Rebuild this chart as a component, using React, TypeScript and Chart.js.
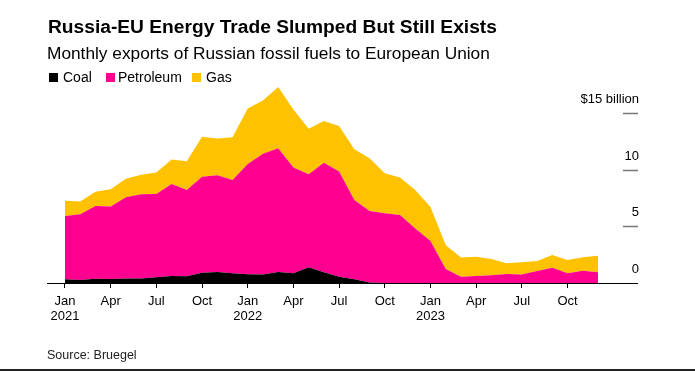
import React, { useEffect, useRef } from "react";
import { Chart, registerables } from "chart.js";

Chart.register(...registerables);

const months = [
  "Jan 2021","Feb 2021","Mar 2021","Apr 2021","May 2021","Jun 2021","Jul 2021","Aug 2021","Sep 2021","Oct 2021","Nov 2021","Dec 2021",
  "Jan 2022","Feb 2022","Mar 2022","Apr 2022","May 2022","Jun 2022","Jul 2022","Aug 2022","Sep 2022","Oct 2022","Nov 2022","Dec 2022",
  "Jan 2023","Feb 2023","Mar 2023","Apr 2023","May 2023","Jun 2023","Jul 2023","Aug 2023","Sep 2023","Oct 2023","Nov 2023","Dec 2023",
];

// $ billion per month
const coal = [
  0.33, 0.26, 0.38, 0.35, 0.4, 0.4, 0.5, 0.62, 0.6, 0.91, 0.97, 0.85,
  0.77, 0.75, 0.97, 0.85, 1.38, 0.94, 0.56, 0.33, 0.05, 0, 0, 0,
  0, 0, 0, 0, 0, 0, 0, 0, 0, 0, 0, 0,
];
const petroleum = [
  5.58, 5.8, 6.42, 6.39, 7.16, 7.43, 7.35, 8.12, 7.6, 8.47, 8.53, 8.24,
  9.73, 10.65, 10.93, 9.35, 8.22, 9.66, 9.27, 7.0, 6.3, 6.15, 6.0, 4.8,
  3.7, 1.24, 0.56, 0.62, 0.68, 0.8, 0.74, 1.06, 1.35, 0.85, 1.09, 0.94,
];
const gas = [
  1.35, 1.14, 1.26, 1.53, 1.64, 1.73, 1.89, 2.16, 2.54, 3.52, 3.24, 3.77,
  4.9, 4.7, 5.4, 5.1, 4.0, 3.7, 4.03, 4.47, 4.65, 3.53, 3.3, 3.4,
  3.0, 2.11, 1.68, 1.7, 1.44, 0.94, 1.08, 0.88, 1.12, 1.18, 1.18, 1.47,
];

const xTickIndices = [0, 3, 6, 9, 12, 15, 18, 21, 24, 27, 30, 33];
const xTickLabels: (string | string[])[] = [
  ["Jan", "2021"], "Apr", "Jul", "Oct",
  ["Jan", "2022"], "Apr", "Jul", "Oct",
  ["Jan", "2023"], "Apr", "Jul", "Oct",
];
const yTickValues = [0, 5, 10, 15];
const yTickLabels = ["0", "5", "10", "$15 billion"];

const COAL = "#000000";
const PETROLEUM = "#ff0090";
const GAS = "#ffc200";
const FONT = "'Liberation Sans', Arial, Helvetica, sans-serif";

const dashPlugin = {
  id: "yDashes",
  afterDraw(chart: any) {
    const { ctx, chartArea, scales } = chart;
    ctx.save();
    ctx.strokeStyle = "#777777";
    ctx.lineWidth = 1.5;
    yTickValues.forEach((v) => {
      if (v === 0) return;
      const y = Math.round(scales.y.getPixelForValue(v)) + 0.5;
      ctx.beginPath();
      ctx.moveTo(chartArea.right - 14, y);
      ctx.lineTo(chartArea.right + 1, y);
      ctx.stroke();
    });
    ctx.restore();
  },
};

function ChartView() {
  const ref = useRef<HTMLCanvasElement | null>(null);
  useEffect(() => {
    if (!ref.current) return;
    const mk = (arr: number[]) => arr.map((v, i) => ({ x: i, y: v }));
    const chart = new Chart(ref.current, {
      type: "line",
      data: {
        labels: months,
        datasets: [
          { label: "Coal", data: mk(coal), backgroundColor: COAL, borderWidth: 0, pointRadius: 0, fill: "origin", tension: 0 },
          { label: "Petroleum", data: mk(petroleum), backgroundColor: PETROLEUM, borderWidth: 0, pointRadius: 0, fill: "-1", tension: 0 },
          { label: "Gas", data: mk(gas), backgroundColor: GAS, borderWidth: 0, pointRadius: 0, fill: "-1", tension: 0 },
        ],
      },
      options: {
        animation: false,
        responsive: false,
        maintainAspectRatio: false,
        layout: { padding: { left: 47, top: 79, right: 0, bottom: 0 } },
        plugins: { legend: { display: false }, tooltip: { enabled: false }, title: { display: false } },
        scales: {
          x: {
            type: "linear",
            min: -1.18,
            max: 37.56,
            afterFit: (s: any) => { s.height = 88; },
            afterBuildTicks: (s: any) => { s.ticks = xTickIndices.map((v) => ({ value: v })); },
            grid: { display: true, drawOnChartArea: false, drawTicks: true, tickLength: 5, color: "#000", lineWidth: 1 },
            border: { display: true, color: "#000", width: 1 },
            ticks: {
              autoSkip: false,
              maxRotation: 0,
              padding: 6,
              color: "#000",
              font: { family: FONT, size: 13, lineHeight: 1.17 },
              callback: (v: any) => {
                const idx = xTickIndices.indexOf(Number(v));
                return idx >= 0 ? xTickLabels[idx] : "";
              },
            },
          },
          y: {
            type: "linear",
            position: "right",
            stacked: true,
            min: 0,
            max: 18,
            afterFit: (s: any) => { s.width = 58; },
            afterBuildTicks: (s: any) => { s.ticks = yTickValues.map((v) => ({ value: v })); },
            grid: { display: false },
            border: { display: false },
            ticks: {
              mirror: true,
              padding: 2,
              labelOffset: -13.5,
              color: "#000",
              font: { family: FONT, size: 13 },
              callback: (v: any) => {
                const idx = yTickValues.indexOf(Number(v));
                return idx >= 0 ? yTickLabels[idx] : "";
              },
            },
          },
        },
      },
      plugins: [dashPlugin],
    } as any);
    return () => chart.destroy();
  }, []);
  return <canvas ref={ref} width={695} height={371} style={{ position: "absolute", left: 0, top: 0, width: 695, height: 371 }} />;
}

const legendItems = [
  { label: "Coal", color: COAL, sq: 49, tx: 63 },
  { label: "Petroleum", color: PETROLEUM, sq: 106, tx: 118 },
  { label: "Gas", color: GAS, sq: 192, tx: 206 },
];

export default function App() {
  return (
    <div style={{ position: "fixed", left: 0, top: 0, width: 695, height: 371, background: "#fff", fontFamily: FONT, color: "#000", overflow: "hidden" }}>
      <ChartView />
      <div style={{ position: "absolute", left: 48, top: 17, fontSize: 19.2, lineHeight: "19px", fontWeight: 700, whiteSpace: "nowrap" }}>
        Russia-EU Energy Trade Slumped But Still Exists
      </div>
      <div style={{ position: "absolute", left: 47, top: 44.7, fontSize: 17.3, lineHeight: "17.3px", whiteSpace: "nowrap" }}>
        Monthly exports of Russian fossil fuels to European Union
      </div>
      {legendItems.map((it) => (
        <React.Fragment key={it.label}>
          <div style={{ position: "absolute", left: it.sq, top: 73, width: 9, height: 9, background: it.color }} />
          <div style={{ position: "absolute", left: it.tx, top: 70, fontSize: 14, lineHeight: "14px", whiteSpace: "nowrap" }}>{it.label}</div>
        </React.Fragment>
      ))}
      <div style={{ position: "absolute", left: 47, top: 349, fontSize: 12.5, lineHeight: "12.5px", color: "#222", whiteSpace: "nowrap" }}>
        Source: Bruegel
      </div>
      <div style={{ position: "absolute", left: 0, right: 0, bottom: 0, height: 2, background: "#222" }} />
    </div>
  );
}
